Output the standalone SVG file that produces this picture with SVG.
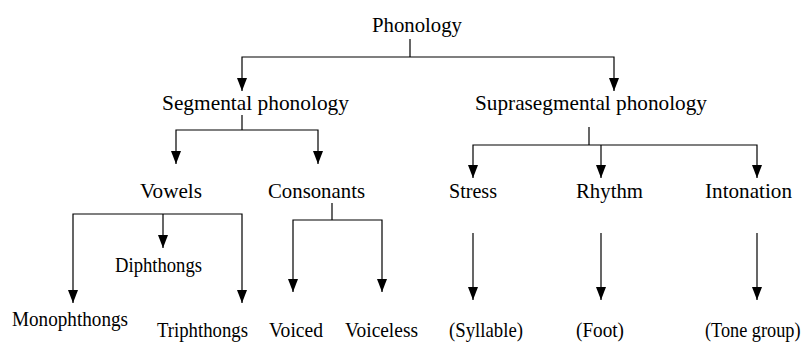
<svg xmlns="http://www.w3.org/2000/svg" width="808" height="344" viewBox="0 0 808 344">
<style>
text{font-family:"Liberation Serif","Times New Roman",serif;font-size:22px;fill:#000}
.c line,.c path{stroke:#000;stroke-width:1.2;fill:none}
</style>
<defs>
<marker id="ah" markerUnits="userSpaceOnUse" markerWidth="14" markerHeight="11" viewBox="0 0 14 11" refX="13" refY="5.5" orient="auto-start-reverse">
<path d="M0,0.5 L13,5.5 L0,10.5 z" fill="#000"/>
</marker>
</defs>
<rect width="808" height="344" fill="#fff"/>
<g id="connectors" class="c">
<path d="M410,39 V57"/>
<path d="M242,91 V57 H614 V91" marker-start="url(#ah)" marker-end="url(#ah)"/>
<path d="M242,115 V130"/>
<path d="M176,164 V130 H318 V164" marker-start="url(#ah)" marker-end="url(#ah)"/>
<path d="M73,303 V214 H242 V303" marker-start="url(#ah)" marker-end="url(#ah)"/>
<line x1="163" y1="214" x2="163" y2="248" marker-end="url(#ah)"/>
<path d="M332,203 V220"/>
<path d="M293,292 V220 H382 V292" marker-start="url(#ah)" marker-end="url(#ah)"/>
<path d="M589,127 V145"/>
<path d="M473,178 V145 H757 V178" marker-start="url(#ah)" marker-end="url(#ah)"/>
<line x1="601" y1="145" x2="601" y2="178" marker-end="url(#ah)"/>
<line x1="473" y1="233" x2="473" y2="300" marker-end="url(#ah)"/>
<line x1="601" y1="233" x2="601" y2="300" marker-end="url(#ah)"/>
<line x1="757" y1="233" x2="757" y2="300" marker-end="url(#ah)"/>
</g>
<g id="phonology"><text x="372" y="32" textLength="90" lengthAdjust="spacingAndGlyphs">Phonology</text></g>
<g id="segmental"><text x="162" y="110" textLength="187" lengthAdjust="spacingAndGlyphs">Segmental phonology</text></g>
<g id="suprasegmental"><text x="475" y="110" textLength="232" lengthAdjust="spacingAndGlyphs">Suprasegmental phonology</text></g>
<g id="vowels"><text x="140" y="198" textLength="62" lengthAdjust="spacingAndGlyphs">Vowels</text></g>
<g id="consonants"><text x="268" y="198" textLength="97" lengthAdjust="spacingAndGlyphs">Consonants</text></g>
<g id="stress"><text x="449" y="198" textLength="48" lengthAdjust="spacingAndGlyphs">Stress</text></g>
<g id="rhythm"><text x="576" y="198" textLength="67" lengthAdjust="spacingAndGlyphs">Rhythm</text></g>
<g id="intonation"><text x="705" y="198" textLength="87" lengthAdjust="spacingAndGlyphs">Intonation</text></g>
<g id="diphthongs"><text x="115" y="272" textLength="87" lengthAdjust="spacingAndGlyphs">Diphthongs</text></g>
<g id="monophthongs"><text x="12" y="326" textLength="116" lengthAdjust="spacingAndGlyphs">Monophthongs</text></g>
<g id="triphthongs"><text x="157" y="337" textLength="91" lengthAdjust="spacingAndGlyphs">Triphthongs</text></g>
<g id="voiced"><text x="269" y="337" textLength="54" lengthAdjust="spacingAndGlyphs">Voiced</text></g>
<g id="voiceless"><text x="345" y="337" textLength="73" lengthAdjust="spacingAndGlyphs">Voiceless</text></g>
<g id="syllable"><text x="449" y="337" textLength="74" lengthAdjust="spacingAndGlyphs">(Syllable)</text></g>
<g id="foot"><text x="576" y="337" textLength="48" lengthAdjust="spacingAndGlyphs">(Foot)</text></g>
<g id="tonegroup"><text transform="translate(705,337) scale(0.83,1)" x="0" y="0">(Tone group)</text></g>
</svg>
